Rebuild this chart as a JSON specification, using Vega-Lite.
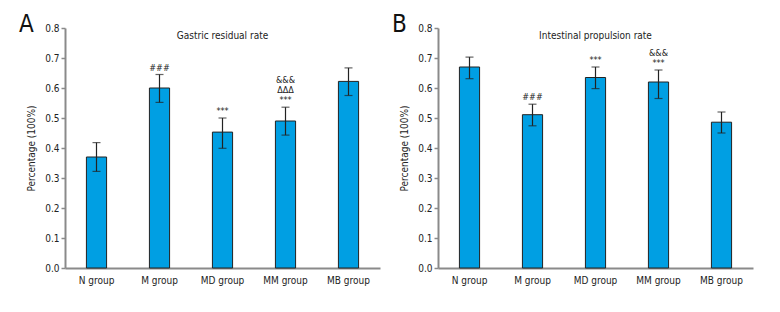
{
  "$schema": "https://vega.github.io/schema/vega-lite/v6.json",
  "background": "white",
  "padding": {"left": 19, "top": 13, "right": 5, "bottom": 5},
  "spacing": 12,
  "datasets": {
    "gastric": [
      {"group": "N group", "mean": 0.37, "lo": 0.322, "hi": 0.418, "sig1": "", "sig2": "", "sig3": ""},
      {"group": "M group", "mean": 0.60, "lo": 0.552, "hi": 0.645, "sig1": "###", "sig2": "", "sig3": ""},
      {"group": "MD group", "mean": 0.453, "lo": 0.399, "hi": 0.50, "sig1": "***", "sig2": "", "sig3": ""},
      {"group": "MM group", "mean": 0.49, "lo": 0.443, "hi": 0.536, "sig1": "***", "sig2": "ΔΔΔ", "sig3": "&&&"},
      {"group": "MB group", "mean": 0.622, "lo": 0.575, "hi": 0.667, "sig1": "", "sig2": "", "sig3": ""}
    ],
    "intestinal": [
      {"group": "N group", "mean": 0.67, "lo": 0.631, "hi": 0.703, "sig1": "", "sig2": "", "sig3": ""},
      {"group": "M group", "mean": 0.511, "lo": 0.474, "hi": 0.546, "sig1": "###", "sig2": "", "sig3": ""},
      {"group": "MD group", "mean": 0.635, "lo": 0.598, "hi": 0.670, "sig1": "***", "sig2": "", "sig3": ""},
      {"group": "MM group", "mean": 0.62, "lo": 0.565, "hi": 0.66, "sig1": "***", "sig2": "&&&", "sig3": ""},
      {"group": "MB group", "mean": 0.486, "lo": 0.45, "hi": 0.52, "sig1": "", "sig2": "", "sig3": ""}
    ]
  },
  "config": {
    "font": "DejaVu Sans Condensed",
    "view": {"stroke": null},
    "axis": {
      "labelFont": "DejaVu Sans Condensed",
      "titleFont": "DejaVu Sans Condensed",
      "labelFontSize": 10,
      "titleFontSize": 10,
      "titleFontWeight": "normal",
      "labelColor": "#222",
      "titleColor": "#222",
      "domainColor": "#8a8a8a",
      "domainWidth": 2,
      "tickColor": "#8a8a8a",
      "tickWidth": 1.5,
      "grid": false,
      "labelOverlap": false,
      "labelFlush": false
    },
    "axisY": {"title": "Percentage (100%)", "format": ".1f", "values": [0, 0.1, 0.2, 0.3, 0.4, 0.5, 0.6, 0.7, 0.8], "tickSize": 4, "labelPadding": 2, "titlePadding": 8},
    "text": {"font": "DejaVu Sans Condensed", "fontWeight": "normal", "color": "#222"},
    "title": {"font": "DejaVu Sans Condensed", "fontSize": 24, "fontWeight": "normal", "anchor": "start", "frame": "group", "color": "#111"}
  },
  "hconcat": [
    {
      "width": 315,
      "height": 240,
      "title": {"text": "A", "dx": -46, "dy": 18},
      "data": {"name": "gastric"},
      "encoding": {
        "x": {"field": "group", "type": "nominal", "sort": null,
          "scale": {"paddingInner": 0.68, "paddingOuter": 0.34},
          "axis": {"title": null, "labelAngle": 0, "ticks": false, "labelPadding": 7}}
      },
      "layer": [
        {
          "mark": {"type": "bar", "color": "#009fe3", "stroke": "#222", "strokeWidth": 1},
          "encoding": {
            "y": {"field": "mean", "type": "quantitative", "scale": {"domain": [0, 0.8]}, "title": "Percentage (100%)"}
          }
        },
        {
          "mark": {"type": "rule", "color": "#222", "strokeWidth": 1.2},
          "encoding": {"y": {"field": "lo", "type": "quantitative", "title": "Percentage (100%)"}, "y2": {"field": "hi"}}
        },
        {
          "mark": {"type": "tick", "color": "#222", "size": 8, "thickness": 1.2},
          "encoding": {"y": {"field": "lo", "type": "quantitative", "title": "Percentage (100%)"}}
        },
        {
          "mark": {"type": "tick", "color": "#222", "size": 8, "thickness": 1.2},
          "encoding": {"y": {"field": "hi", "type": "quantitative", "title": "Percentage (100%)"}}
        },
        {
          "mark": {"type": "text", "baseline": "bottom", "dy": -2, "fontSize": 9, "fontWeight": "normal"},
          "encoding": {"y": {"field": "hi", "type": "quantitative", "title": "Percentage (100%)"}, "text": {"field": "sig1", "type": "nominal"}}
        },
        {
          "mark": {"type": "text", "baseline": "bottom", "dy": -12, "fontSize": 9, "fontWeight": "normal"},
          "encoding": {"y": {"field": "hi", "type": "quantitative", "title": "Percentage (100%)"}, "text": {"field": "sig2", "type": "nominal"}}
        },
        {
          "mark": {"type": "text", "baseline": "bottom", "dy": -22, "fontSize": 9, "fontWeight": "normal"},
          "encoding": {"y": {"field": "hi", "type": "quantitative", "title": "Percentage (100%)"}, "text": {"field": "sig3", "type": "nominal"}}
        },
        {
          "data": {"values": [{"heading": "Gastric residual rate"}]},
          "mark": {"type": "text", "fontSize": 10, "fontWeight": "normal", "baseline": "middle"},
          "encoding": {"x": {"datum": "MD group"}, "y": {"datum": 0.775, "title": "Percentage (100%)"}, "text": {"field": "heading", "type": "nominal"}}
        }
      ]
    },
    {
      "width": 315,
      "height": 240,
      "title": {"text": "B", "dx": -46, "dy": 18},
      "data": {"name": "intestinal"},
      "encoding": {
        "x": {"field": "group", "type": "nominal", "sort": null,
          "scale": {"paddingInner": 0.68, "paddingOuter": 0.34},
          "axis": {"title": null, "labelAngle": 0, "ticks": false, "labelPadding": 7}}
      },
      "layer": [
        {
          "mark": {"type": "bar", "color": "#009fe3", "stroke": "#222", "strokeWidth": 1},
          "encoding": {
            "y": {"field": "mean", "type": "quantitative", "scale": {"domain": [0, 0.8]}, "title": "Percentage (100%)"}
          }
        },
        {
          "mark": {"type": "rule", "color": "#222", "strokeWidth": 1.2},
          "encoding": {"y": {"field": "lo", "type": "quantitative", "title": "Percentage (100%)"}, "y2": {"field": "hi"}}
        },
        {
          "mark": {"type": "tick", "color": "#222", "size": 8, "thickness": 1.2},
          "encoding": {"y": {"field": "lo", "type": "quantitative", "title": "Percentage (100%)"}}
        },
        {
          "mark": {"type": "tick", "color": "#222", "size": 8, "thickness": 1.2},
          "encoding": {"y": {"field": "hi", "type": "quantitative", "title": "Percentage (100%)"}}
        },
        {
          "mark": {"type": "text", "baseline": "bottom", "dy": -2, "fontSize": 9, "fontWeight": "normal"},
          "encoding": {"y": {"field": "hi", "type": "quantitative", "title": "Percentage (100%)"}, "text": {"field": "sig1", "type": "nominal"}}
        },
        {
          "mark": {"type": "text", "baseline": "bottom", "dy": -12, "fontSize": 9, "fontWeight": "normal"},
          "encoding": {"y": {"field": "hi", "type": "quantitative", "title": "Percentage (100%)"}, "text": {"field": "sig2", "type": "nominal"}}
        },
        {
          "data": {"values": [{"heading": "Intestinal propulsion rate"}]},
          "mark": {"type": "text", "fontSize": 10, "fontWeight": "normal", "baseline": "middle"},
          "encoding": {"x": {"datum": "MD group"}, "y": {"datum": 0.775, "title": "Percentage (100%)"}, "text": {"field": "heading", "type": "nominal"}}
        }
      ]
    }
  ]
}
